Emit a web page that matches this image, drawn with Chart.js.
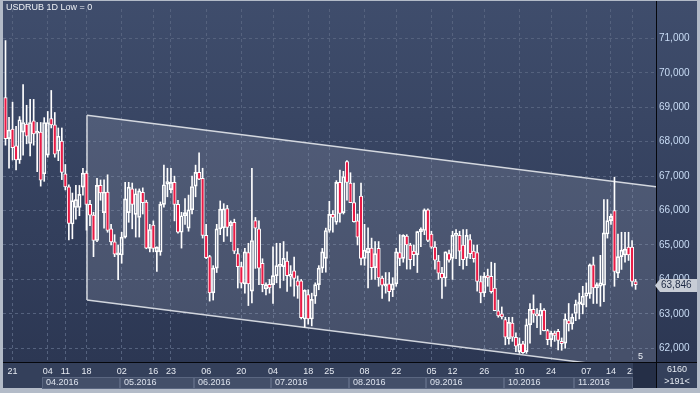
<!DOCTYPE html>
<html>
<head>
<meta charset="utf-8">
<script src="https://cdn.jsdelivr.net/npm/chart.js@4.4.1/dist/chart.umd.min.js"></script>
<style>
  html, body { margin: 0; padding: 0; background: #b3bbc8; }
  #wrap { width: 700px; height: 393px; }
</style>
</head>
<body>
<div id="wrap"><canvas id="chart" width="700" height="393"></canvas></div>
<script>
// USDRUB 1D, one entry per trading bar (values in thousands)
const opens = [
  69.28,68.09,68.37,67.88,67.47,68.28,68.51,67.95,68.61,68.25,
  68.28,67.07,67.61,68.67,68.49,67.73,68.02,67.07,66.69,65.61,
  66.09,66.09,66.68,67.09,66.18,65.87,65.13,66.73,65.94,66.54,
  65.47,65.09,64.71,64.71,65.23,65.94,66.63,65.89,65.80,66.53,
  66.25,64.90,65.58,64.80,64.80,66.18,66.77,66.61,66.82,66.18,
  65.37,65.85,65.49,66.02,66.71,67.11,66.94,65.28,64.66,63.61,
  64.33,65.47,65.50,66.06,65.56,65.66,64.75,64.37,63.87,64.78,
  63.66,65.71,65.47,64.47,63.72,63.86,63.85,64.11,64.38,64.37,
  64.53,64.09,64.25,63.96,63.96,62.85,63.56,62.85,63.51,63.85,
  64.33,64.61,65.42,65.89,65.66,66.82,65.94,67.42,66.80,66.23,
  65.70,66.42,64.61,64.78,64.91,64.34,64.90,64.04,63.80,63.87,
  63.70,63.87,64.78,64.61,65.26,65.00,64.82,64.72,65.39,65.42,
  66.02,65.32,64.94,64.53,64.18,64.04,64.75,64.61,65.28,65.28,
  65.00,64.62,65.16,64.82,64.78,63.94,63.61,64.11,64.09,63.75,
  63.09,63.00,62.83,62.28,62.73,62.32,61.90,62.13,61.90,62.68,
  63.13,63.00,62.94,63.11,62.51,62.25,62.44,62.49,62.20,62.15,
  62.80,62.71,63.01,63.28,63.26,63.51,63.58,64.42,63.75,63.80,
  63.83,65.32,65.71,66.00,64.18,64.66,64.71,64.94,64.94,63.94
];
const highs = [
  70.94,68.71,69.15,68.45,68.73,69.66,69.06,69.23,69.23,68.56,
  68.56,68.70,68.88,69.49,68.85,68.40,68.40,67.34,66.75,66.51,
  66.73,66.73,67.23,67.15,66.30,65.95,66.94,66.89,66.89,67.04,
  65.60,65.30,65.00,65.37,66.82,66.82,66.80,66.63,66.63,66.66,
  66.30,65.60,65.70,64.95,66.25,67.32,67.23,67.23,67.00,66.30,
  65.95,66.35,66.45,67.00,67.32,67.68,67.23,65.60,64.70,64.40,
  65.60,66.28,66.20,66.15,65.70,65.75,64.90,64.50,64.90,65.05,
  67.23,65.80,65.70,64.60,63.90,64.00,64.95,65.05,65.05,65.10,
  64.80,64.40,64.65,64.10,64.00,63.70,63.70,63.60,63.90,64.40,
  64.90,65.49,66.27,66.00,66.87,67.18,67.14,67.45,67.10,66.80,
  65.90,66.80,65.60,65.50,65.20,65.10,65.10,64.10,64.20,64.20,
  64.05,64.90,65.30,65.30,65.30,65.05,65.00,65.40,65.50,66.05,
  66.05,65.40,65.10,64.70,64.35,64.80,64.85,65.40,65.45,65.40,
  65.45,65.45,65.30,65.00,65.00,64.10,64.20,64.30,64.50,64.47,
  63.40,63.20,62.90,62.90,62.90,62.45,62.30,62.20,62.85,63.30,
  63.55,63.15,63.30,63.15,62.55,62.50,62.50,62.55,62.30,63.00,
  63.30,63.00,63.40,63.60,63.80,63.90,64.45,64.65,63.90,64.70,
  66.32,66.32,65.90,66.97,65.32,65.37,65.37,65.37,65.13,64.00
];
const lows = [
  67.90,67.23,67.47,67.18,67.37,67.61,67.94,67.59,67.90,67.13,
  66.71,66.85,67.55,68.40,67.55,67.45,66.90,66.60,65.15,65.18,
  65.75,65.85,66.45,65.43,65.56,64.66,65.10,66.30,65.49,65.37,
  65.00,64.66,63.99,64.47,65.20,65.66,65.47,65.23,65.23,65.90,
  64.89,64.80,64.80,64.23,64.70,66.10,66.40,66.51,65.70,65.34,
  64.91,65.60,65.40,65.90,66.40,66.90,65.20,64.60,63.37,63.40,
  64.20,65.30,65.10,65.26,65.10,64.75,63.75,63.75,63.60,63.24,
  63.32,64.32,63.85,63.64,63.55,63.60,63.30,63.90,63.75,63.97,
  63.65,63.80,63.51,63.45,62.85,62.61,62.70,62.65,63.30,63.70,
  64.20,64.21,65.37,65.37,65.60,65.66,65.90,66.30,66.25,65.66,
  65.00,64.42,64.41,63.75,64.00,64.00,63.80,63.45,63.60,63.37,
  63.50,63.80,64.40,64.50,64.30,64.30,64.40,64.20,64.95,65.30,
  65.10,64.90,64.30,64.00,63.45,63.80,64.50,64.00,64.60,64.40,
  64.30,64.40,64.60,64.50,63.66,63.32,63.50,63.80,63.60,63.10,
  62.90,62.85,62.10,62.12,62.20,61.90,61.85,61.85,61.85,62.15,
  62.75,62.60,62.40,62.50,62.10,62.05,62.20,61.95,61.94,62.00,
  62.50,62.55,62.80,62.85,63.00,63.20,63.45,63.30,63.30,63.22,
  63.35,65.20,65.60,63.80,64.05,64.29,64.50,64.55,63.80,63.71
];
const closes = [
  68.09,68.34,67.83,67.47,68.64,68.56,68.16,68.56,68.23,68.30,
  66.88,68.56,68.56,68.49,67.64,68.16,67.11,66.69,65.63,66.29,
  66.32,66.47,67.09,66.18,65.87,65.13,66.73,66.51,66.54,65.42,
  65.09,64.73,64.77,65.23,66.34,66.68,66.18,66.49,66.57,66.23,
  64.91,65.45,64.90,64.94,66.18,66.75,66.84,66.82,66.18,65.37,
  65.85,65.94,66.02,66.70,67.11,66.91,65.28,64.63,63.61,64.33,
  65.47,66.04,66.05,65.51,65.66,64.82,64.37,63.89,64.80,63.87,
  65.13,65.49,64.33,63.85,63.85,63.75,64.11,64.40,64.42,64.61,
  64.11,64.14,64.03,63.80,62.89,63.68,62.85,63.42,63.85,64.33,
  64.80,65.42,65.89,65.80,66.82,65.92,66.99,66.82,66.23,65.68,
  65.23,64.61,64.85,64.91,64.34,64.75,64.04,63.83,63.87,63.64,
  63.87,64.80,64.61,65.28,65.00,64.57,64.72,65.39,65.46,66.02,
  65.13,64.94,64.56,64.18,64.04,64.80,64.56,65.28,65.33,64.82,
  64.57,65.28,64.75,64.60,63.94,63.61,64.09,64.04,63.64,63.09,
  62.94,62.91,62.32,62.75,62.32,62.06,62.13,61.87,62.68,63.13,
  62.99,62.94,63.11,62.51,62.25,62.44,62.37,62.23,62.13,62.85,
  62.71,62.90,63.28,63.35,63.51,63.61,64.42,63.75,63.85,63.90,
  65.35,65.71,65.83,64.23,64.66,64.85,64.88,64.71,63.94,63.846
];

// date axis: bar index of each labelled day, and the label
const dayTickIdx    = [2, 12, 17, 23, 33, 42, 47, 57, 67, 76, 86, 92, 102, 111, 121, 127, 136, 146, 155, 165, 172, 178];
const dayTickLabels = ['21','04','11','18','02','16','23','06','20','04','18','25','08','22','05','12','26','10','24','07','14','21'];
// month row: first bar index of each month
const monthStartIdx = [11, 33, 54, 76, 98, 120, 142, 162];
const monthLabels   = ['04.2016','05.2016','06.2016','07.2016','08.2016','09.2016','10.2016','11.2016'];
const monthEndIdx = 178.3;

const yTicks = [62, 63, 64, 65, 66, 67, 68, 69, 70, 71];

// trend channel (bar index, price)
const channelX     = [23.15, 184.8];
const channelUpper = [68.77, 66.69];
const channelLower = [63.40, 61.32];

const X_MIN = -0.71, X_MAX = 184.8;
const Y_MIN = 61.6, Y_MAX = 71.857;

const RED = '#ea1a45';
const WHITE = '#ffffff';
const FONT = '"Liberation Sans", Arial, sans-serif';

const fmt = v => v.toFixed(3).replace('.', ',');

const bodies = opens.map((o, i) => ({ x: i, y: [Math.min(o, closes[i]), Math.max(o, closes[i])] }));
const upperWicks = opens.map((o, i) => ({ x: i, y: [Math.max(o, closes[i]), highs[i]] }));
const lowerWicks = opens.map((o, i) => ({ x: i, y: [lows[i], Math.min(o, closes[i])] }));
const bodyColors = opens.map((o, i) => closes[i] < o ? RED : 'rgba(0,0,0,0)');

const decor = {
  id: 'decor',
  beforeDraw(chart) {
    const { ctx, chartArea: a, scales: { x } } = chart;
    ctx.save();
    ctx.fillStyle = '#b3bbc8';
    ctx.fillRect(0, 0, chart.width, chart.height);
    const g = ctx.createLinearGradient(0, 1, 0, a.bottom);
    g.addColorStop(0, '#3f4d6c');
    g.addColorStop(1, '#2c3753');
    ctx.fillStyle = g;
    ctx.fillRect(3, 1, 694, a.bottom - 1);
    ctx.fillStyle = '#34405b';
    ctx.fillRect(3, a.bottom, 694, 26);

    // month boxes
    ctx.font = '9px ' + FONT;
    ctx.textBaseline = 'middle';
    ctx.textAlign = 'left';
    monthStartIdx.forEach((m, i) => {
      const x0 = Math.round(x.getPixelForValue(m - 0.5));
      const end = i + 1 < monthStartIdx.length ? monthStartIdx[i + 1] - 0.5 : monthEndIdx;
      const x1 = Math.round(x.getPixelForValue(end));
      ctx.fillStyle = '#434f69';
      ctx.fillRect(x0, 377, x1 - x0, 11);
      ctx.strokeStyle = '#5a6680';
      ctx.lineWidth = 1;
      ctx.strokeRect(x0 + 0.5, 377.5, x1 - x0 - 1, 11);
      ctx.fillStyle = '#dde3ee';
      ctx.fillText(monthLabels[i], x0 + 4, 383);
    });
    ctx.restore();
  },
  afterDraw(chart) {
    const { ctx, chartArea: a, scales: { x, y } } = chart;
    ctx.save();
    // end-of-data block in the date row
    const xe = Math.round(x.getPixelForValue(monthEndIdx));
    ctx.fillStyle = '#252f47';
    ctx.fillRect(xe, a.bottom + 1, a.right - xe, 25);

    // separators
    ctx.strokeStyle = '#05070c';
    ctx.lineWidth = 1;
    ctx.beginPath();
    ctx.moveTo(a.right + 0.5, 1);
    ctx.lineTo(a.right + 0.5, a.bottom + 26);
    ctx.moveTo(3, a.bottom + 0.5);
    ctx.lineTo(697, a.bottom + 0.5);
    ctx.stroke();

    ctx.font = '9px ' + FONT;
    ctx.textBaseline = 'middle';
    ctx.textAlign = 'left';
    ctx.fillStyle = '#eef1f6';
    ctx.fillText('USDRUB 1D Low = 0', 6, 8);
    ctx.fillText('5', 638, 357);

    // last price tag
    const last = closes[closes.length - 1];
    const py = Math.round(y.getPixelForValue(last)) + 0.5;
    ctx.fillStyle = '#c8cdd6';
    ctx.beginPath();
    ctx.moveTo(655, py);
    ctx.lineTo(660, py - 6.5);
    ctx.lineTo(697, py - 6.5);
    ctx.lineTo(697, py + 6.5);
    ctx.lineTo(660, py + 6.5);
    ctx.closePath();
    ctx.fill();
    ctx.font = '10px ' + FONT;
    ctx.fillStyle = '#1f2b45';
    ctx.fillText(fmt(last), 661, py);

    // corner info
    ctx.font = '9px ' + FONT;
    ctx.textAlign = 'center';
    ctx.fillStyle = '#e6ebf3';
    ctx.fillText('6160', 677, 370);
    ctx.fillText('>191<', 677, 382);
    ctx.restore();
  }
};

new Chart(document.getElementById('chart'), {
  type: 'bar',
  data: {
    datasets: [
      {
        type: 'line',
        data: channelX.map((v, i) => ({ x: v, y: channelUpper[i] })),
        borderColor: '#d4d8df',
        borderWidth: 1.5,
        pointRadius: 0,
        fill: '+1',
        backgroundColor: 'rgba(190,196,208,0.18)',
        order: 10
      },
      {
        type: 'line',
        data: channelX.map((v, i) => ({ x: v, y: channelLower[i] })),
        borderColor: '#d4d8df',
        borderWidth: 1.5,
        pointRadius: 0,
        fill: false,
        order: 11
      },
      {
        type: 'line',
        data: [{ x: channelX[0], y: channelLower[0] }, { x: channelX[0], y: channelUpper[0] }],
        borderColor: '#d4d8df',
        borderWidth: 1.5,
        pointRadius: 0,
        fill: false,
        order: 9
      },
      {
        data: upperWicks,
        backgroundColor: WHITE,
        borderWidth: 0,
        barThickness: 1,
        grouped: false,
        order: 5
      },
      {
        data: lowerWicks,
        backgroundColor: WHITE,
        borderWidth: 0,
        barThickness: 1,
        grouped: false,
        order: 5
      },
      {
        data: bodies,
        backgroundColor: bodyColors,
        borderColor: WHITE,
        borderWidth: 1,
        borderSkipped: false,
        barThickness: 3.4,
        minBarLength: 2,
        grouped: false,
        order: 1
      }
    ]
  },
  plugins: [decor],
  options: {
    responsive: false,
    animation: false,
    layout: { padding: { left: 3, top: 3, right: 3, bottom: 5 } },
    plugins: {
      legend: { display: false },
      tooltip: { enabled: false }
    },
    scales: {
      x: {
        type: 'linear',
        position: 'bottom',
        min: X_MIN,
        max: X_MAX,
        offset: false,
        afterFit: s => { s.height = 26; },
        afterBuildTicks: s => { s.ticks = dayTickIdx.map(v => ({ value: v })); },
        grid: { color: '#55627e', drawTicks: false, offset: false },
        border: { display: false, dash: [3, 3] },
        ticks: {
          autoSkip: false,
          maxRotation: 0,
          padding: 4,
          color: '#e6eaf2',
          font: { family: FONT, size: 9 },
          callback: (v, i) => dayTickLabels[i]
        }
      },
      y: {
        type: 'linear',
        position: 'right',
        min: Y_MIN,
        max: Y_MAX,
        afterFit: s => { s.width = 41; },
        afterBuildTicks: s => { s.ticks = yTicks.map(v => ({ value: v })); },
        grid: { color: '#55627e', drawTicks: false },
        border: { display: false, dash: [3, 3] },
        ticks: {
          padding: 3,
          color: '#c9dcf5',
          font: { family: FONT, size: 10 },
          callback: v => fmt(v)
        }
      }
    }
  }
});
</script>
</body>
</html>
